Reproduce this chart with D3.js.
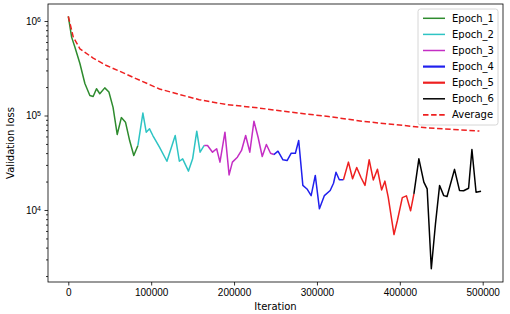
<!DOCTYPE html>
<meta charset="utf-8">
<style>
body { margin: 0; background: #fff; }
svg { font-family: "DejaVu Sans", sans-serif; }
.line { fill: none; stroke-width: 1.5px; stroke-linejoin: round; }
.axis path, .axis line { stroke: #000; stroke-width: 0.8px; }
.axis text { font-size: 10px; fill: #000; }
</style>
<body>
<script src="https://d3js.org/d3.v7.min.js"></script>
<script>

// [iteration, validation loss]
var epoch1 = [[0,1120000],[4000,675000],[8000,528000],[14000,355000],[20000,218000],[26000,163000],
    [30000,159000],[34000,192000],[38000,170000],[44000,196000],[49000,177000],[54000,122000],
    [59000,63000],[64000,95000],[69000,85000],[74000,54300],[79000,37700],[84000,48200]];
var epoch2 = [[84000,48200],[90000,106000],[94000,66600],[98000,72300],[102000,61400],[110000,46200],
    [119000,32800],[129000,61400],[134000,32800],[138000,34800],[145000,25800],[150000,34800],
    [155000,68200],[159000,40900],[164000,48200]];
var epoch3 = [[164000,48200],[168000,48200],[174000,40900],[179000,44500],[183000,32100],[189000,66600],
    [194000,23500],[198000,32100],[204000,36200],[209000,42700],[214000,61400],[219000,40900],
    [224000,87000],[229000,58900],[234000,36800],[239000,49300],[244000,39900],[248000,38600]];
var epoch4 = [[248000,38600],[253000,41900],[259000,34000],[264000,33400],[269000,39900],[274000,39900],
    [278000,54300],[283000,18200],[288000,16700],[293000,14200],[298000,23200],[303000,10300],
    [309000,14200],[316000,16100],[320000,19200],[323000,25100],[327000,20900],[332000,20900]];
var epoch5 = [[332000,20900],[338000,32100],[343000,21400],[348000,28200],[353000,22200],[358000,18200],
    [363000,34000],[368000,20800],[373000,27000],[378000,16300],[382000,20200],[386000,13700],
    [393000,5500],[397000,7700],[403000,13500],[408000,14100],[413000,9800],[417000,14800]];
var epoch6 = [[417000,14800],[423000,34800],[429000,19700],[433000,16700],[438000,2390],[443000,7100],
    [448000,18200],[453000,14200],[457000,13900],[466000,26900],[472000,16100],[477000,16000],
    [483000,17000],[487000,43700],[492000,15400],[498000,15800]];
var average = [[0,1120000],[6000,675000],[14000,508000],[30000,405000],[46000,338000],[62000,294000],
    [78000,254000],[110000,191000],[134000,167000],[158000,147000],[190000,131000],[230000,120000],
    [270000,108000],[314000,97500],[354000,87000],[394000,80000],[434000,74000],[496000,68500]];

var seriesNames = ["Epoch_1", "Epoch_2", "Epoch_3", "Epoch_4", "Epoch_5", "Epoch_6", "Average"];
var seriesColors = ["#2e8b2e", "#2ec4c4", "#c42ec4", "#2020ee", "#ee2020", "#000000", "#ee2020"];
var seriesData = [epoch1, epoch2, epoch3, epoch4, epoch5, epoch6, average];

var xTicks = [0, 100000, 200000, 300000, 400000, 500000];
var yTicks = [1e4, 1e5, 1e6];

var W = 510, H = 314;
var pLeft = 48, pRight = 503, pTop = 4, pBottom = 282;

var svg = d3.select("body").append("svg")
    .attr("width", W)
    .attr("height", H);

var x = d3.scaleLinear().domain([-24500, 524500]).range([pLeft, pRight]);
var y = d3.scaleLog().domain([Math.pow(10, 3.238), Math.pow(10, 6.18)]).range([pBottom, pTop]);

var line = d3.line()
    .x(function (d) { return x(d[0]); })
    .y(function (d) { return y(d[1]); });

// lines
seriesData.forEach(function (s, i) {
    var p = svg.append("path")
        .datum(s)
        .attr("class", "line")
        .attr("stroke", seriesColors[i])
        .attr("d", line);
    if (i === 3 || i === 4) p.attr("stroke-width", 1.8);
    if (i === 6) p.attr("stroke-dasharray", "5.5,2.6").attr("stroke-width", 1.7);
});

// x axis
svg.append("g")
    .attr("class", "axis")
    .attr("transform", "translate(0," + pBottom + ")")
    .call(d3.axisBottom(x).tickValues(xTicks).tickSize(3.5).tickPadding(3.5)
        .tickFormat(d3.format("d")))
    .call(function (g) { g.select(".domain").remove(); });

// y axis, major
var yAxis = svg.append("g")
    .attr("class", "axis")
    .attr("transform", "translate(" + pLeft + ",0)")
    .call(d3.axisLeft(y).tickValues(yTicks).tickSize(3.5).tickPadding(3.5).tickFormat(""))
    .call(function (g) { g.select(".domain").remove(); });

yAxis.selectAll(".tick").each(function (d) {
    var t = d3.select(this).select("text")
        .attr("x", -7)
        .attr("dy", "0.32em");
    t.append("tspan").text("10");
    t.append("tspan").attr("dy", "-0.45em").attr("font-size", "7px")
        .text(Math.round(Math.log10(d)));
});

// y axis, minor
var minor = [];
[3, 4, 5].forEach(function (k) {
    for (var m = 2; m <= 9; m++) minor.push(m * Math.pow(10, k));
});
minor = minor.filter(function (v) { return v >= y.domain()[0] && v <= y.domain()[1]; });
svg.append("g")
    .attr("class", "axis")
    .attr("transform", "translate(" + pLeft + ",0)")
    .call(d3.axisLeft(y).tickValues(minor).tickSize(2).tickFormat(""))
    .call(function (g) { g.select(".domain").remove(); });

// frame
svg.append("rect")
    .attr("x", pLeft).attr("y", pTop)
    .attr("width", pRight - pLeft).attr("height", pBottom - pTop)
    .attr("fill", "none").attr("stroke", "#000").attr("stroke-width", 0.8);

// labels
svg.append("text")
    .attr("x", (pLeft + pRight) / 2).attr("y", 310)
    .attr("text-anchor", "middle").attr("font-size", "10px")
    .text("Iteration");

svg.append("text")
    .attr("transform", "translate(14," + (pTop + pBottom) / 2 + ") rotate(-90)")
    .attr("text-anchor", "middle").attr("font-size", "10px")
    .text("Validation loss");

// legend
var lg = svg.append("g");
lg.append("rect")
    .attr("x", 418).attr("y", 9).attr("width", 80).attr("height", 116)
    .attr("rx", 2.5)
    .attr("fill", "#fff").attr("fill-opacity", 0.8)
    .attr("stroke", "#ccc").attr("stroke-width", 0.8);

seriesNames.forEach(function (name, i) {
    var yy = 18.3 + i * 16.1;
    var l = lg.append("line")
        .attr("x1", 423).attr("x2", 445)
        .attr("y1", yy).attr("y2", yy)
        .attr("stroke", seriesColors[i]).attr("stroke-width", 1.5);
    if (i === 3 || i === 4) l.attr("stroke-width", 2.2);
    if (i === 6) l.attr("stroke-dasharray", "5.5,2.6").attr("stroke-width", 1.7);
    lg.append("text")
        .attr("x", 452).attr("y", yy).attr("dy", "0.35em")
        .attr("font-size", "10px")
        .text(name);
});

</script>
</body>
